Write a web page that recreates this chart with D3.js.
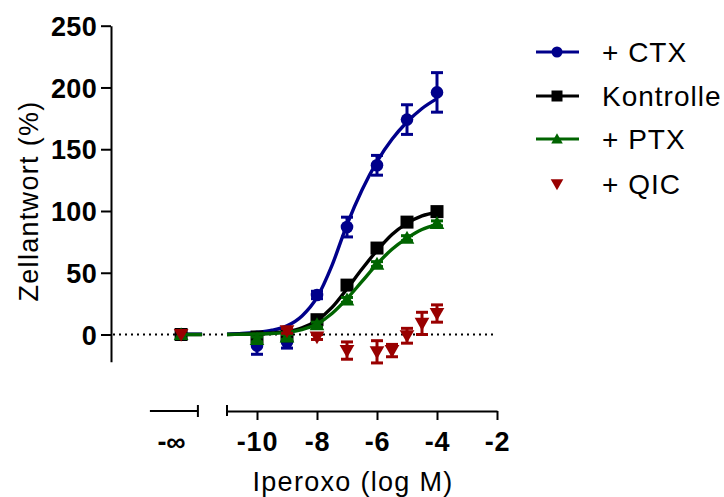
<!DOCTYPE html>
<html><head><meta charset="utf-8">
<script src="https://cdn.jsdelivr.net/npm/d3@7"></script>
<style>
body{margin:0;background:#fff}
svg{display:block}
text{font-family:"Liberation Sans",Arial,Helvetica,sans-serif;fill:#000}
</style>
</head><body>
<svg id="chart" width="724" height="497"></svg>
<script>
// ---- data ----
const seriesNames = ["+ CTX", "Kontrolle", "+ PTX", "+ QIC"];
const seriesColors = ["#00008B", "#000000", "#006400", "#990000"];
const doses = [-10, -9, -8, -7, -6, -5, -4];
const ctxVals = [-9, -6, 32, 87, 137, 174, 196];
const ctxErr  = [7, 5, 3, 8, 8, 12, 16];
const konVals = [-2, -1, 12, 40, 70, 91, 99.5];
const konErr  = [2, 2, 2, 3, 3, 2, 2];
const ptxVals = [-4, -2, 8, 28, 57, 78, 90];
const ptxErr  = [2, 2, 2, 2, 2, 2, 2];
const qicDoses = [-9, -8, -7, -6, -5.5, -5, -4.5, -4];
const qicVals  = [3, -2, -13, -14, -13, -1, 9, 17];
const qicErr   = [2, 2, 7, 9, 5, 6, 9, 7];
const infVals  = [0, 0, 0, 0];            // value at log dose = -infinity
const curveDoses = [-11, -10.5, -10, -9.5, -9, -8.5, -8, -7.5, -7, -6.5, -6, -5.5, -5, -4.5, -4];
const ctxCurve = [0.3, 0.8, 1.8, 3.5, 7, 15, 30, 56, 89, 117, 140, 158, 172, 183, 191];
const konCurve = [0, 0.3, 0.6, 1.2, 2.5, 5.5, 11.5, 22, 37, 53, 68, 81, 90, 96, 99];
const ptxCurve = [0, 0.2, 0.4, 0.8, 1.7, 4, 8.5, 17, 29, 43, 57, 69, 78, 85, 89];
const xTicks = [-10, -8, -6, -4, -2];
const yTicks = [0, 50, 100, 150, 200, 250];
const infLabel = "-∞";
const xTitle = "Iperoxo (log M)";
const yTitle = "Zellantwort (%)";

// ---- layout ----
const svg = d3.select("#chart");
const x = d3.scaleLinear().domain([-11, -2]).range([227, 497]);
const y = d3.scaleLinear().domain([-22, 250]).range([361.7, 25.7]);
const axisX0 = 111, axisY0 = 411;
const infPos = -12.53, infAxis = [-13.57, -11.97], infCurveEnd = -11.83, infLabelPos = -12.85;
const fmt = d => String(d);

// Y axis
const yAxis = svg.append("g").attr("transform", `translate(${axisX0},0)`)
  .call(d3.axisLeft(y).tickValues(yTicks).tickFormat(fmt).tickSize(10).tickSizeOuter(0).tickPadding(4));
yAxis.select(".domain").attr("stroke", "#000").attr("stroke-width", 2);
yAxis.selectAll(".tick line").attr("stroke", "#000").attr("stroke-width", 2);
yAxis.selectAll(".tick text").attr("font-size", 27).attr("font-weight", "bold")
  .attr("font-family", '"Liberation Sans",Arial,sans-serif').attr("fill", "#000")
  .attr("dy", "0.36em").style("letter-spacing", "0.3px");

// X axis main segment
const xAxis = svg.append("g").attr("transform", `translate(0,${axisY0})`)
  .call(d3.axisBottom(x).tickValues(xTicks).tickFormat(fmt).tickSize(9).tickSizeOuter(0).tickPadding(12));
xAxis.select(".domain").attr("stroke", "#000").attr("stroke-width", 2);
xAxis.selectAll(".tick line").attr("stroke", "#000").attr("stroke-width", 2);
xAxis.selectAll(".tick text").attr("font-size", 27).attr("font-weight", "bold")
  .attr("font-family", '"Liberation Sans",Arial,sans-serif').attr("fill", "#000")
  .style("letter-spacing", "0.8px");
// left cap of the main segment
svg.append("line").attr("x1", x(-11)).attr("x2", x(-11)).attr("y1", axisY0 - 6).attr("y2", axisY0 + 5)
  .attr("stroke", "#000").attr("stroke-width", 2);
// -inf segment
svg.append("line").attr("x1", x(infAxis[0])).attr("x2", x(infAxis[1])).attr("y1", axisY0).attr("y2", axisY0)
  .attr("stroke", "#000").attr("stroke-width", 2);
svg.append("line").attr("x1", x(infAxis[1])).attr("x2", x(infAxis[1])).attr("y1", axisY0 - 6).attr("y2", axisY0 + 6)
  .attr("stroke", "#000").attr("stroke-width", 2);
svg.append("text").attr("x", x(infLabelPos)).attr("y", 451).attr("text-anchor", "middle")
  .attr("font-size", 27).attr("font-weight", "bold").text(infLabel);

// titles
svg.append("text").attr("transform", `translate(38,201) rotate(-90)`).attr("text-anchor", "middle")
  .attr("font-size", 27).style("letter-spacing", "1.3px").text(yTitle);
svg.append("text").attr("x", 353).attr("y", 491).attr("text-anchor", "middle")
  .attr("font-size", 27).style("letter-spacing", "1.3px").text(xTitle);

// dotted zero line
svg.append("line").attr("x1", axisX0 + 2).attr("x2", x(-2) - 3).attr("y1", y(0)).attr("y2", y(0))
  .attr("stroke", "#000").attr("stroke-width", 2).attr("stroke-dasharray", "2,4");

// ---- series ----
const series = [
  {doses: doses, vals: ctxVals, err: ctxErr, curve: ctxCurve, sym: "circle"},
  {doses: doses, vals: konVals, err: konErr, curve: konCurve, sym: "square"},
  {doses: doses, vals: ptxVals, err: ptxErr, curve: ptxCurve, sym: "tri"},
  {doses: qicDoses, vals: qicVals, err: qicErr, curve: null, sym: "tridown"}
];

function markerPath(sym, s) {
  if (sym === "circle") return d3.symbol(d3.symbolCircle, Math.PI * s * s)();
  if (sym === "square") return `M${-s},${-s}H${s}V${s}H${-s}Z`;
  if (sym === "tri") return `M0,${-s * 1.05}L${s * 1.05},${s * 0.8}L${-s * 1.05},${s * 0.8}Z`;
  return `M${-s * 1.05},${-s * 0.8}L${s * 1.05},${-s * 0.8}L0,${s * 1.05}Z`;
}
const markerSize = {circle: 6.3, square: 6.5, tri: 7, tridown: 7};

const line = d3.line().x(d => x(d[0])).y(d => y(d[1])).curve(d3.curveMonotoneX);

series.forEach((s, i) => {
  const col = seriesColors[i];
  const g = svg.append("g");
  if (s.curve) {
    g.append("path").datum(curveDoses.map((d, j) => [d, s.curve[j]]))
      .attr("d", line).attr("fill", "none").attr("stroke", col).attr("stroke-width", 3.4);
    g.append("line").attr("x1", x(infPos)).attr("x2", x(infCurveEnd))
      .attr("y1", y(s.curve[0])).attr("y2", y(s.curve[0]))
      .attr("stroke", col).attr("stroke-width", 3.4);
  }
  // error bars
  s.doses.forEach((d, j) => {
    const e = s.err[j], v = s.vals[j], cx = x(d);
    g.append("line").attr("x1", cx).attr("x2", cx).attr("y1", y(v - e)).attr("y2", y(v + e))
      .attr("stroke", col).attr("stroke-width", 3);
    [v - e, v + e].forEach(vv => g.append("line").attr("x1", cx - 6).attr("x2", cx + 6)
      .attr("y1", y(vv)).attr("y2", y(vv)).attr("stroke", col).attr("stroke-width", 3));
  });
  const pts = s.doses.map((d, j) => [d, s.vals[j]]);
  pts.push([infPos, infVals[i]]);
  g.selectAll("path.m").data(pts).enter().append("path").attr("class", "m")
    .attr("transform", d => `translate(${x(d[0])},${y(d[1])})`)
    .attr("d", markerPath(s.sym, markerSize[s.sym])).attr("fill", col);
});

// ---- legend ----
const legY = [52, 96, 139, 184];
seriesNames.forEach((name, i) => {
  const g = svg.append("g").attr("transform", `translate(0,${legY[i]})`);
  const col = seriesColors[i];
  if (i < 3) g.append("line").attr("x1", 536).attr("x2", 579).attr("y1", 0).attr("y2", 0)
    .attr("stroke", col).attr("stroke-width", 3.2);
  const sym = series[i].sym;
  g.append("path").attr("transform", "translate(557,0)")
    .attr("d", markerPath(sym, i === 3 ? 6 : 5.5)).attr("fill", col);
  g.append("text").attr("x", 602).attr("y", 10).attr("font-size", 28)
    .style("letter-spacing", "1px").text(name);
});
</script>
</body></html>
